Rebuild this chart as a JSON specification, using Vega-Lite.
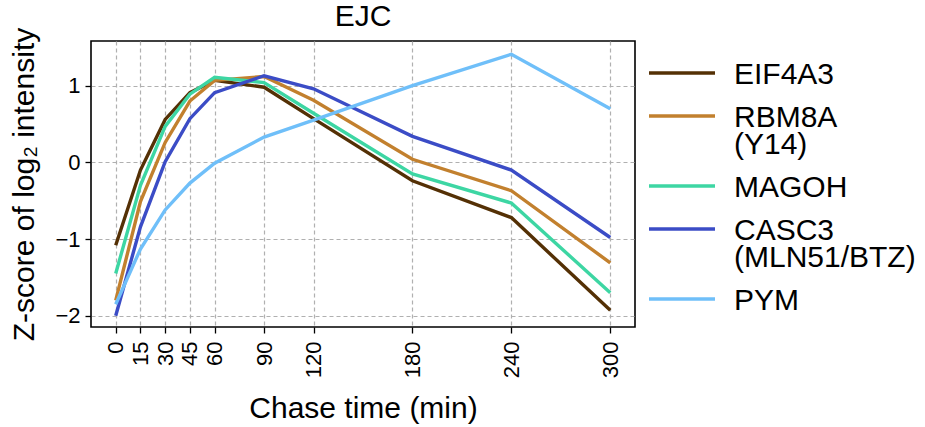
{
  "$schema": "https://vega.github.io/schema/vega-lite/v6.json",
  "autosize": {"type": "none"},
  "padding": {"left": 91, "top": 41, "right": 290, "bottom": 100},
  "width": 544,
  "height": 286,
  "background": "white",
  "config": {
    "font": "Liberation Sans",
    "view": {"stroke": "black", "strokeWidth": 1.6},
    "axis": {
      "grid": true,
      "gridColor": "#b0b0b0",
      "gridDash": [4, 3],
      "gridWidth": 1.2,
      "domain": false,
      "tickColor": "black",
      "tickSize": 6,
      "tickWidth": 1.3,
      "labelFont": "Liberation Sans",
      "labelFontSize": 22,
      "labelColor": "black",
      "titleFont": "Liberation Sans",
      "titleFontSize": 30,
      "titleFontWeight": "normal",
      "titleColor": "black"
    }
  },
  "title": {"text": "EJC", "fontSize": 30, "fontWeight": "normal", "font": "Liberation Sans", "color": "black", "offset": 12, "frame": "group", "dy": 17},
  "data": {
    "values": [
      {"gene": "EIF4A3", "t": 0, "z": -1.08}, {"gene": "EIF4A3", "t": 15, "z": -0.10}, {"gene": "EIF4A3", "t": 30, "z": 0.56}, {"gene": "EIF4A3", "t": 45, "z": 0.91}, {"gene": "EIF4A3", "t": 60, "z": 1.07}, {"gene": "EIF4A3", "t": 90, "z": 0.98}, {"gene": "EIF4A3", "t": 120, "z": 0.57}, {"gene": "EIF4A3", "t": 180, "z": -0.24}, {"gene": "EIF4A3", "t": 240, "z": -0.72}, {"gene": "EIF4A3", "t": 300, "z": -1.93},
      {"gene": "RBM8A", "t": 0, "z": -1.80}, {"gene": "RBM8A", "t": 15, "z": -0.51}, {"gene": "RBM8A", "t": 30, "z": 0.26}, {"gene": "RBM8A", "t": 45, "z": 0.80}, {"gene": "RBM8A", "t": 60, "z": 1.07}, {"gene": "RBM8A", "t": 90, "z": 1.12}, {"gene": "RBM8A", "t": 120, "z": 0.81}, {"gene": "RBM8A", "t": 180, "z": 0.04}, {"gene": "RBM8A", "t": 240, "z": -0.37}, {"gene": "RBM8A", "t": 300, "z": -1.31},
      {"gene": "MAGOH", "t": 0, "z": -1.45}, {"gene": "MAGOH", "t": 15, "z": -0.30}, {"gene": "MAGOH", "t": 30, "z": 0.47}, {"gene": "MAGOH", "t": 45, "z": 0.89}, {"gene": "MAGOH", "t": 60, "z": 1.11}, {"gene": "MAGOH", "t": 90, "z": 1.04}, {"gene": "MAGOH", "t": 120, "z": 0.64}, {"gene": "MAGOH", "t": 180, "z": -0.15}, {"gene": "MAGOH", "t": 240, "z": -0.53}, {"gene": "MAGOH", "t": 300, "z": -1.70},
      {"gene": "CASC3", "t": 0, "z": -2.00}, {"gene": "CASC3", "t": 15, "z": -0.84}, {"gene": "CASC3", "t": 30, "z": 0.01}, {"gene": "CASC3", "t": 45, "z": 0.57}, {"gene": "CASC3", "t": 60, "z": 0.91}, {"gene": "CASC3", "t": 90, "z": 1.13}, {"gene": "CASC3", "t": 120, "z": 0.96}, {"gene": "CASC3", "t": 180, "z": 0.34}, {"gene": "CASC3", "t": 240, "z": -0.10}, {"gene": "CASC3", "t": 300, "z": -0.98},
      {"gene": "PYM", "t": 0, "z": -1.85}, {"gene": "PYM", "t": 15, "z": -1.13}, {"gene": "PYM", "t": 30, "z": -0.62}, {"gene": "PYM", "t": 45, "z": -0.27}, {"gene": "PYM", "t": 60, "z": -0.01}, {"gene": "PYM", "t": 90, "z": 0.33}, {"gene": "PYM", "t": 120, "z": 0.55}, {"gene": "PYM", "t": 180, "z": 1.00}, {"gene": "PYM", "t": 240, "z": 1.41}, {"gene": "PYM", "t": 300, "z": 0.70}
    ]
  },
  "mark": {"type": "line", "strokeWidth": 3.4, "clip": true},
  "encoding": {
    "x": {
      "field": "t", "type": "quantitative",
      "scale": {"domain": [-15, 315], "nice": false, "zero": false},
      "axis": {"values": [0, 15, 30, 45, 60, 90, 120, 180, 240, 300], "labelAngle": -90, "title": "Chase time (min)", "titlePadding": 16, "labelPadding": 8}
    },
    "y": {
      "field": "z", "type": "quantitative",
      "scale": {"domain": [-2.147, 1.583], "nice": false, "zero": false},
      "axis": {"values": [-2, -1, 0, 1], "title": "Z-score of log₂ intensity", "titlePadding": 15, "labelPadding": 5}
    },
    "color": {
      "field": "gene", "type": "nominal",
      "scale": {
        "domain": ["EIF4A3", "RBM8A", "MAGOH", "CASC3", "PYM"],
        "range": ["#543005", "#c2802e", "#3dd6a3", "#3b4cc6", "#6fbff9"]
      },
      "legend": {
        "title": null,
        "orient": "right",
        "offset": 15,
        "padding": 17,
        "symbolType": "M-3.3,0L3.3,0",
        "symbolSize": 400,
        "symbolStrokeWidth": 3.5,
        "symbolFillColor": "transparent",
        "labelFontSize": 30,
        "labelFont": "Liberation Sans",
        "labelColor": "black",
        "labelOffset": 37,
        "labelLimit": 300,
        "labelBaseline": "alphabetic",
        "rowPadding": 11,
        "labelExpr": "datum.label == 'RBM8A' ? ['RBM8A', '(Y14)'] : datum.label == 'CASC3' ? ['CASC3', '(MLN51/BTZ)'] : datum.label",
        "encode": {
          "labels": {"update": {"lineHeight": {"value": 27}, "dy": {"value": 11}}}
        }
      }
    }
  }
}
